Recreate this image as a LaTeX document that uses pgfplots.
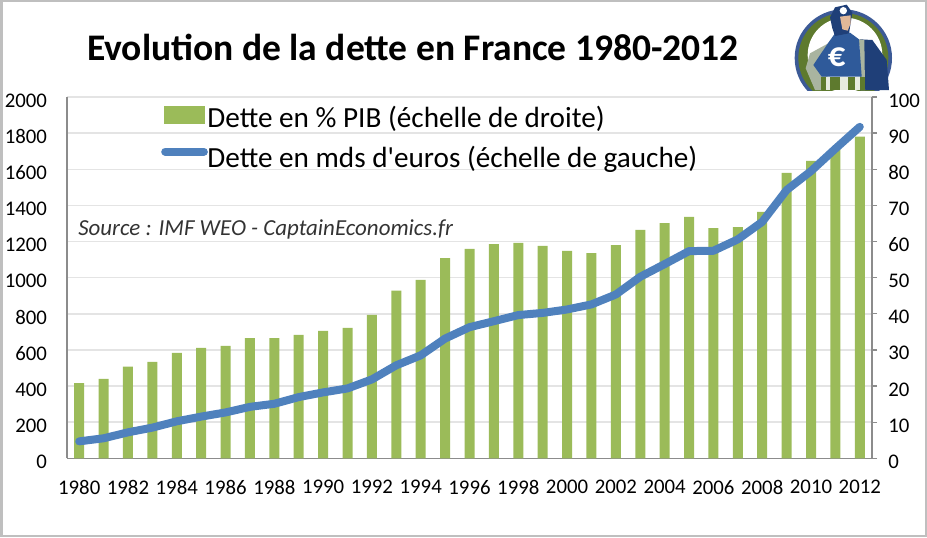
\documentclass[border=0pt]{standalone}
\usepackage{fontspec}
\setmainfont{Carlito}[Ligatures=TeXOff]
\usepackage{pgfplots}
\usepackage{pgfplotstable}
\pgfplotsset{compat=1.18}
\definecolor{barg}{HTML}{9BBB59}
\definecolor{lineb}{HTML}{4F81BD}
\definecolor{axg}{HTML}{8C8C8C}
\definecolor{gridg}{HTML}{E4E4E4}
\definecolor{lgring}{HTML}{3C5A96}
\definecolor{lggreen}{HTML}{5E7A2E}
\definecolor{lgdark}{HTML}{1F3F78}
\definecolor{lgblue}{HTML}{2F5A9A}
\definecolor{lgskin}{HTML}{E2B898}
\definecolor{lggrey}{HTML}{A9B4A0}
\pgfplotstableread{
year pct
1980 20.8
1981 22.0
1982 25.4
1983 26.7
1984 29.2
1985 30.6
1986 31.1
1987 33.3
1988 33.3
1989 34.2
1990 35.3
1991 36.1
1992 39.7
1993 46.4
1994 49.4
1995 55.4
1996 58.0
1997 59.3
1998 59.6
1999 58.8
2000 57.4
2001 56.8
2002 59.0
2003 63.2
2004 65.1
2005 66.8
2006 63.7
2007 64.0
2008 68.2
2009 79.0
2010 82.3
2011 85.6
2012 89.0
}\pcttable
\pgfplotstableread{
year mds
1980 94
1981 111
1982 144
1983 170
1984 205
1985 231
1986 254
1987 285
1988 302
1989 339
1990 365
1991 387
1992 437
1993 515
1994 570
1995 663
1996 726
1997 759
1998 793
1999 805
2000 824
2001 852
2002 907
2003 1005
2004 1075
2005 1147
2006 1149
2007 1212
2008 1309
2009 1485
2010 1590
2011 1714
2012 1835
}\mdstable
\pgfplotsset{common/.style={
  at={(50.25pt,59pt)}, anchor=south west, scale only axis,
  width=603.75pt, height=271pt,
  xmin=1979.5, xmax=2012.5,
  tick label style={font=\fontsize{15.6pt}{17pt}\selectfont},
  /pgf/number format/assume math mode=true,
  /pgf/number format/set thousands separator={},
  axis line style={axg,line width=1pt,-},
}}
\begin{document}
\begin{tikzpicture}
\path[use as bounding box] (0,0) rectangle (695.25pt,402.75pt);
\begin{scope}[x=0.75pt,y=-0.75pt,yshift=402.75pt]
\draw[color=black!25,line width=1.5pt] (1.5,1.5) rectangle (925.5,535.5);
\end{scope}
\begin{axis}[common,
  ymin=0, ymax=100,
  axis y line*=right, axis x line*=bottom,
  ytick={0,10,...,100},
  ymajorgrids, grid style={gridg,line width=1.1pt},
  ytick align=outside, major tick length=3.75pt,
  ytick style={axg,line width=1pt},
  yticklabel style={xshift=5pt,yshift=-2.5pt},
  xtick={1980,1982,...,2012},
  xticklabel style={yshift=-13pt},
  x tick style={draw=none},
  minor xtick={1979.5,1980.5,...,2012.5},
  minor x tick style={axg,line width=0.8pt},
  minor tick length=4.5pt,
  xtick align=inside,
]
\addplot[ybar, bar width=7.5pt, fill=barg, draw=none] table[x=year,y=pct] {\pcttable};
\end{axis}
\begin{axis}[common,
  ymin=0, ymax=2000,
  axis y line*=left, axis x line=none,
  ytick={0,200,...,2000},
  ytick style={draw=none},
  yticklabel style={xshift=-11.5pt,yshift=-2.5pt},
  legend style={at={(0.0,1)},anchor=north west,xshift=72.75pt,yshift=-4.5pt,draw=none,fill=none,
    font=\fontsize{21.9pt}{24pt}\selectfont,row sep=9pt,inner sep=0pt,
    /tikz/every even column/.style={column sep=1.5pt}},
  legend cell align=left,
]
\addlegendimage{legend image code/.code={\fill[barg] (0pt,-4pt) rectangle (30pt,8.5pt);}}
\addlegendentry{Dette en \% PIB (échelle de droite)}
\addlegendimage{legend image code/.code={\fill[lineb,opacity=0] (0pt,4.9pt) rectangle (30pt,5.1pt);\draw[overlay,lineb,line width=6pt,line cap=round] (0.5pt,5pt) -- (29.5pt,5pt);}}
\addlegendentry{Dette en mds d'euros (échelle de gauche)}
\addplot[lineb,line width=6pt,line join=round,line cap=round,forget plot] table[x=year,y=mds] {\mdstable};
\end{axis}
\begin{scope}[x=0.75pt,y=-0.75pt,yshift=402.75pt]
\node[font=\fontsize{28.15pt}{30pt}\selectfont\bfseries,anchor=center] at (413,47) {Evolution de la dette en France 1980-2012};
\node[font=\fontsize{17.2pt}{18pt}\selectfont\itshape,text=black!80,anchor=west,inner sep=0pt] at (78,229) {Source : IMF WEO - CaptainEconomics.fr};
\end{scope}
% logo, in units of a third of a pixel
\begin{scope}[x=0.25pt,y=-0.25pt,xshift=588.75pt,yshift=402.75pt]
\begin{scope}
\clip (0,0) rectangle (345,270);
\fill[lgring] (175,174) circle (146);
\fill[lggreen] (175,174) circle (135);
\fill[white] (180,165) circle (112);
\fill[lggrey] (75,160) -- (130,130) -- (140,200) -- (110,270) -- (90,270) -- (62,205) -- cycle;
\fill[lgdark] (225,118) -- (262,120) -- (305,180) -- (312,270) -- (225,270) -- cycle;
\fill[lggrey] (222,118) -- (238,120) -- (240,270) -- (228,270) -- cycle;
\fill[lgblue] (130,128) -- (150,100) -- (195,98) -- (222,118) -- (230,230) -- (110,230) -- (85,195) -- cycle;
\fill[lggreen] (108,230) rectangle (240,270);
\fill[white!85!lggreen] (122,230) rectangle (136,270);
\fill[white!85!lggreen] (165,230) rectangle (190,270);
\fill[white!85!lggreen] (210,230) rectangle (226,270);
\fill[lgdark] (135,52) -- (150,22) -- (185,14) -- (202,38) -- (192,100) -- (150,108) -- (142,85) -- cycle;
\fill[white] (175,32) circle (11);
\fill[lgskin] (165,50) -- (197,46) -- (197,70) -- (188,92) -- (172,88) -- cycle;
\node[white,font=\fontsize{26pt}{26pt}\selectfont\bfseries,inner sep=0pt] at (155,172) {€};
\end{scope}
\end{scope}
\end{tikzpicture}
\end{document}
